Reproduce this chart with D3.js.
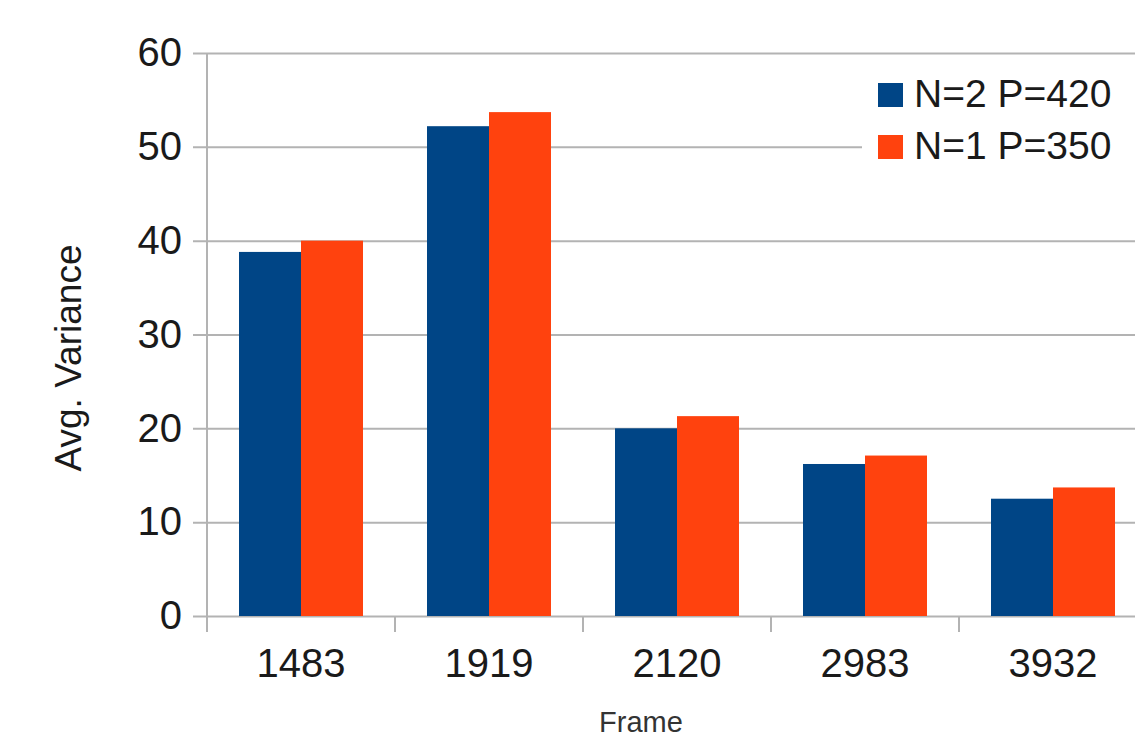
<!DOCTYPE html>
<html>
<head>
<meta charset="utf-8">
<script src="https://cdn.jsdelivr.net/npm/d3@7"></script>
<style>
  html, body { margin: 0; padding: 0; background: #fff; }
  svg { display: block; font-family: "Liberation Sans", Arial, sans-serif; }
</style>
</head>
<body>
<svg id="chart" width="1135" height="740"></svg>
<script>
// Frames sampled and the average variance for each configuration
const frames = ["1483", "1919", "2120", "2983", "3932"];
const seriesNames = ["N=2 P=420", "N=1 P=350"];
const seriesColors = ["#004586", "#ff420e"];
const varianceN2P420 = [38.8, 52.2, 20.0, 16.2, 12.5];
const varianceN1P350 = [40.0, 53.7, 21.3, 17.1, 13.7];
const yTicks = [0, 10, 20, 30, 40, 50, 60];

const seriesValues = [varianceN2P420, varianceN1P350];

const svg = d3.select("#chart");
const plotLeft = 207, plotRight = 1147, plotTop = 53, plotBottom = 616;
const gridColor = "#b3b3b3";

const y = d3.scaleLinear().domain([0, 60]).range([plotBottom, plotTop]);
const x0 = d3.scaleBand().domain(frames).range([plotLeft, plotRight]).padding(0);
const x1 = d3.scaleBand().domain(d3.range(seriesNames.length)).range([32, 156]).padding(0);

// Horizontal gridlines with value labels
const yAxis = d3.axisLeft(y)
  .tickValues(yTicks)
  .tickSizeInner(-(plotRight - 193))
  .tickSizeOuter(0)
  .tickPadding(11)
  .tickFormat(d3.format("d"));
const gy = svg.append("g").attr("transform", `translate(193,0)`).call(yAxis);
gy.select(".domain").remove();
gy.selectAll(".tick line").attr("stroke", gridColor).attr("stroke-width", 2);
gy.selectAll(".tick text")
  .attr("font-size", 40)
  .attr("fill", "#1a1a1a")
  .attr("font-family", "Liberation Sans, Arial, sans-serif");

// Vertical axis line
svg.append("line")
  .attr("x1", plotLeft).attr("x2", plotLeft)
  .attr("y1", plotTop).attr("y2", plotBottom + 16)
  .attr("stroke", gridColor).attr("stroke-width", 2);

// Category separators below the baseline
const boundaries = frames.map(f => x0(f)).concat([x0(frames[frames.length - 1]) + x0.bandwidth()]);
svg.append("g").selectAll("line")
  .data(boundaries.slice(1))
  .join("line")
  .attr("x1", d => d).attr("x2", d => d)
  .attr("y1", plotBottom).attr("y2", plotBottom + 16)
  .attr("stroke", gridColor).attr("stroke-width", 2);

// Bars
const groups = svg.append("g").selectAll("g")
  .data(frames)
  .join("g")
  .attr("transform", d => `translate(${x0(d)},0)`);
groups.selectAll("rect")
  .data((f, i) => seriesValues.map((vals, s) => ({ s, v: vals[i] })))
  .join("rect")
  .attr("x", d => x1(d.s))
  .attr("width", x1.bandwidth())
  .attr("y", d => y(d.v))
  .attr("height", d => y(0) - y(d.v))
  .attr("fill", d => seriesColors[d.s]);

// Frame labels
const xAxis = d3.axisBottom(x0).tickSize(0).tickPadding(33);
const gx = svg.append("g").attr("transform", `translate(0,${plotBottom})`).call(xAxis);
gx.select(".domain").remove();
gx.selectAll(".tick text")
  .attr("font-size", 40)
  .attr("fill", "#1a1a1a")
  .attr("font-family", "Liberation Sans, Arial, sans-serif");

// Axis titles
svg.append("text")
  .attr("transform", `translate(81,358) rotate(-90)`)
  .attr("text-anchor", "middle")
  .attr("font-size", 37)
  .attr("fill", "#1a1a1a")
  .text("Avg. Variance");

svg.append("text")
  .attr("x", 641).attr("y", 732)
  .attr("text-anchor", "middle")
  .attr("font-size", 29)
  .attr("fill", "#333")
  .text("Frame");

// Legend
const legend = svg.append("g");
legend.append("rect")
  .attr("x", 862).attr("y", 68).attr("width", 290).attr("height", 106)
  .attr("fill", "#fff");
const items = legend.selectAll("g.item")
  .data(seriesNames)
  .join("g")
  .attr("class", "item")
  .attr("transform", (d, i) => `translate(878,${83 + i * 52})`);
items.append("rect")
  .attr("width", 25).attr("height", 24)
  .attr("fill", (d, i) => seriesColors[i]);
items.append("text")
  .attr("x", 36).attr("y", 24)
  .attr("font-size", 39)
  .attr("fill", "#1a1a1a")
  .text(d => d);
</script>
</body>
</html>
